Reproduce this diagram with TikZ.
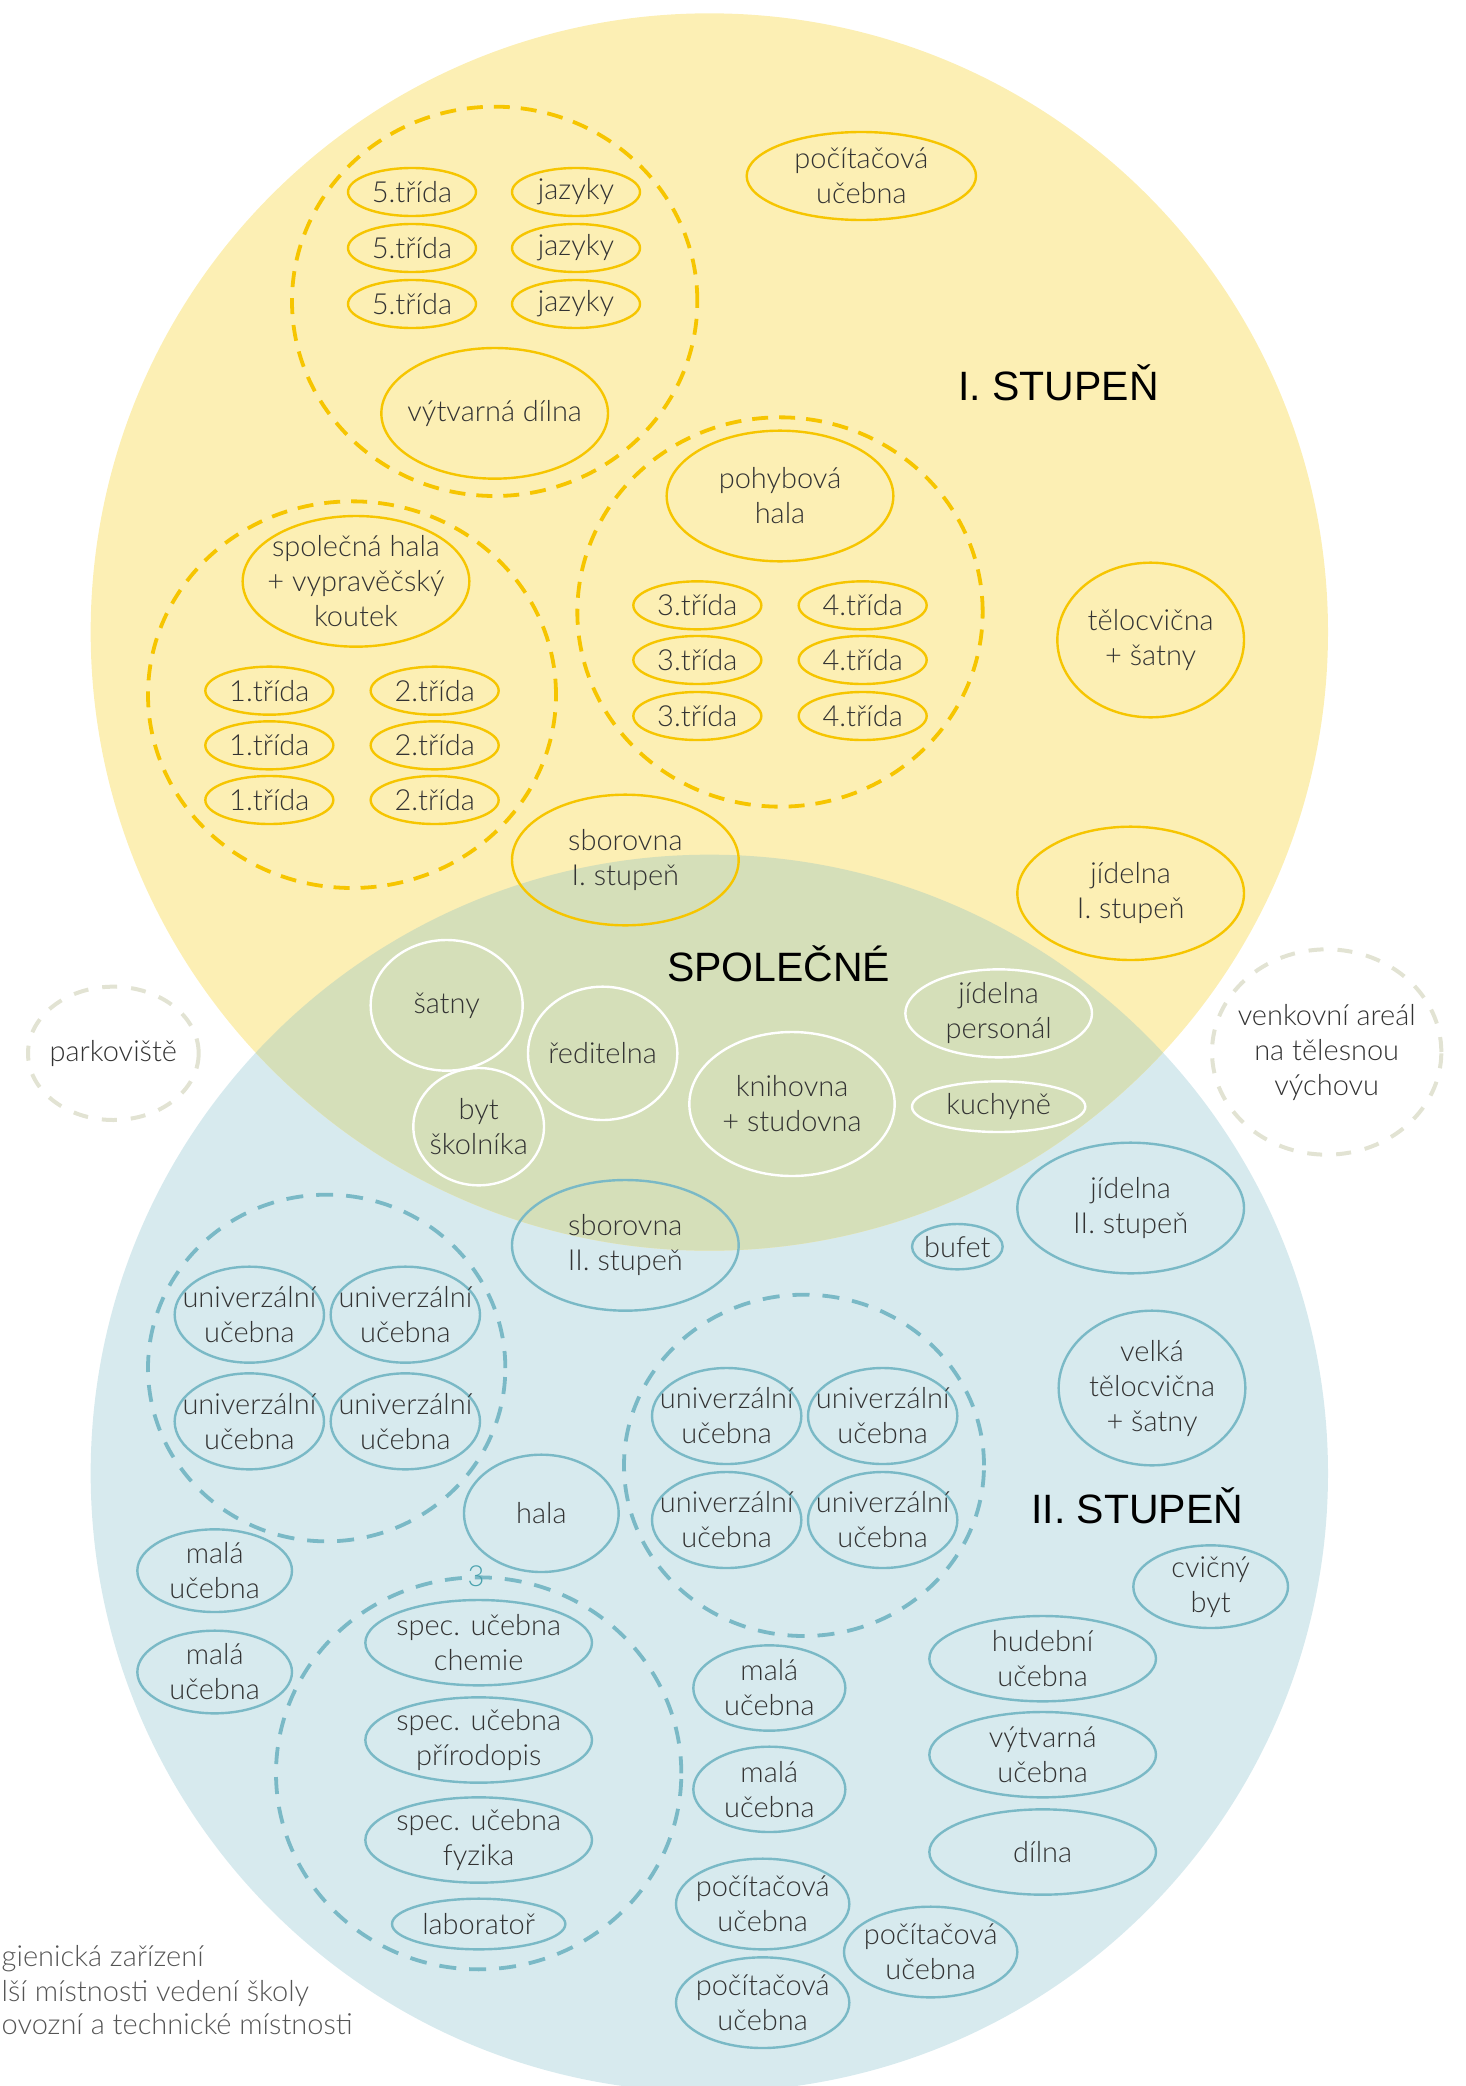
\documentclass[tikz,border=0pt]{standalone}
\usepackage{fontspec}
\IfFontExistsTF{Lato Light}{\setmainfont{Lato Light}}{%
 \IfFontExistsTF{Lato-Light.ttf}{\setmainfont{Lato-Light.ttf}}{%
  \IfFontExistsTF{Open Sans Light}{\setmainfont{Open Sans Light}}{%
   \IfFontExistsTF{Fira Sans Light}{\setmainfont{Fira Sans Light}}{%
    \IfFontExistsTF{Noto Sans Light}{\setmainfont{Noto Sans Light}}{\setmainfont{Lato}}}}}}
\newfontfamily\headfont{Liberation Sans}
\usetikzlibrary{shapes.geometric}
\definecolor{yfill}{HTML}{FCEFB4}
\definecolor{bfill}{HTML}{D7EAEE}
\definecolor{gfill}{HTML}{D5DFB9}
\definecolor{ystroke}{HTML}{F6C500}
\definecolor{bstroke}{HTML}{7AB9C6}
\definecolor{beige}{HTML}{E2E3D3}
\definecolor{labelgray}{HTML}{333333}
\definecolor{leggray}{HTML}{555555}
\definecolor{teal3}{HTML}{4AA2AE}
\tikzset{
  R/.style 2 args={ellipse, inner sep=0pt, minimum width=#1*1.33333pt, minimum height=#2*1.33333pt, line width=1.2pt},
  yel/.style={draw=ystroke},
  blu/.style={draw=bstroke},
  wht/.style={draw=white},
  T/.style={font=\fontsize{14.5}{17.5}\selectfont, text=labelgray, align=center, inner sep=0pt},
  H/.style={font=\headfont\fontsize{20.5}{24}\selectfont, text=black, inner sep=0pt},
  ydash/.style={draw=ystroke, line width=1.9pt, dash pattern=on 8pt off 5.5pt},
  bdash/.style={draw=bstroke, line width=1.9pt, dash pattern=on 8.5pt off 6.5pt},
  edash/.style={draw=beige, line width=2pt, dash pattern=on 7.5pt off 7pt},
}
\begin{document}
\begin{tikzpicture}[x=0.66667pt, y=-0.66667pt]
\useasboundingbox (0,0) rectangle (1098.75,1564.5);
% background circles
\fill[bfill] (532,1105) ellipse [x radius=464, y radius=464];
\fill[yfill] (532,474) ellipse [x radius=464, y radius=464];
\begin{scope}
  \clip (532,1105) ellipse [x radius=464, y radius=464];
  \fill[gfill] (532,474) ellipse [x radius=464, y radius=464];
\end{scope}

% group outlines
\node[R={152}{146}, ydash] (g1) at (371,226) {};
\node[R={152}{146}, ydash] (g2) at (585,459) {};
\node[R={153}{145}, ydash] (g3) at (264,521) {};
\node[R={134}{130}, bdash] (g4) at (245,1026) {};
\node[R={135}{128}, bdash] (g5) at (603,1099) {};
\node[R={152}{147}, bdash] (g6) at (359,1330) {};
\node[R={64}{50}, edash, label={[T]center:parkoviště}] (park) at (85,790) {};
\node[R={86}{77}, edash, label={[T]center:{venkovní areál\\na tělesnou\\výchovu}}] (venk) at (995,789) {};

% I. stupeň
\node[R={48}{18}, yel, label={[T]center:5.třída}] (t5a) at (309,144) {};
\node[R={48}{18}, yel, label={[T]center:5.třída}] (t5b) at (309,186) {};
\node[R={48}{18}, yel, label={[T]center:5.třída}] (t5c) at (309,228) {};
\node[R={48}{18}, yel, label={[T]center:jazyky}] (jza) at (432,144) {};
\node[R={48}{18}, yel, label={[T]center:jazyky}] (jzb) at (432,186) {};
\node[R={48}{18}, yel, label={[T]center:jazyky}] (jzc) at (432,228) {};
\node[R={85}{49}, yel, label={[T]center:výtvarná dílna}] (vd) at (371,310) {};
\node[R={86}{33}, yel, label={[T]center:{počítačová\\učebna}}] (pc1) at (646,132) {};
\node[R={85}{49}, yel, label={[T]center:{pohybová\\hala}}] (ph) at (585,372) {};
\node[R={48}{18}, yel, label={[T]center:3.třída}] (t3a) at (523,454) {};
\node[R={48}{18}, yel, label={[T]center:3.třída}] (t3b) at (523,495) {};
\node[R={48}{18}, yel, label={[T]center:3.třída}] (t3c) at (523,537) {};
\node[R={48}{18}, yel, label={[T]center:4.třída}] (t4a) at (647,454) {};
\node[R={48}{18}, yel, label={[T]center:4.třída}] (t4b) at (647,495) {};
\node[R={48}{18}, yel, label={[T]center:4.třída}] (t4c) at (647,537) {};
\node[R={85}{49}, yel, label={[T]center:{společná hala\\+ vypravěčský\\koutek}}] (sh) at (267,436) {};
\node[R={48}{18}, yel, label={[T]center:1.třída}] (t1a) at (202,518) {};
\node[R={48}{18}, yel, label={[T]center:1.třída}] (t1b) at (202,559) {};
\node[R={48}{18}, yel, label={[T]center:1.třída}] (t1c) at (202,600) {};
\node[R={48}{18}, yel, label={[T]center:2.třída}] (t2a) at (326,518) {};
\node[R={48}{18}, yel, label={[T]center:2.třída}] (t2b) at (326,559) {};
\node[R={48}{18}, yel, label={[T]center:2.třída}] (t2c) at (326,600) {};
\node[R={70}{58}, yel, label={[T]center:{tělocvična\\+ šatny}}] (tel1) at (863,480) {};
\node[R={85}{49}, yel, label={[T]center:{sborovna\\I. stupeň}}] (sb1) at (469,645) {};
\node[R={85}{50}, yel, label={[T]center:{jídelna\\I. stupeň}}] (jd1) at (848,670) {};
\node[H] (h1) at (794,287) {I. STUPEŇ};

% společné
\node[H] (h0) at (584,723) {SPOLEČNÉ};
\node[R={57}{49}, wht, label={[T]center:šatny}] (sat) at (335,754) {};
\node[R={56}{50}, wht, label={[T]center:ředitelna}] (red) at (452,790) {};
\node[R={49}{44}, wht, label={[T]center:{byt\\školníka}}] (byt) at (359,845) {};
\node[R={77}{54}, wht, label={[T]center:{knihovna\\+ studovna}}] (kn) at (594,828) {};
\node[R={70}{33}, wht, label={[T]center:{jídelna\\personál}}] (jp) at (749,760) {};
\node[R={65}{19}, wht, label={[T]center:kuchyně}] (ku) at (749,830) {};

% II. stupeň
\node[H] (h2) at (853,1129) {II. STUPEŇ};
\node[R={85}{49}, blu, label={[T]center:{sborovna\\II. stupeň}}] (sb2) at (469,934) {};
\node[R={34}{17}, blu, label={[T]center:bufet}] (buf) at (718,935) {};
\node[R={85}{49}, blu, label={[T]center:{jídelna\\II. stupeň}}] (jd2) at (848,906) {};
\node[R={70}{58}, blu, label={[T]center:{velká\\tělocvična\\+ šatny}}] (tel2) at (864,1041) {};
\node[R={56}{36}, blu, label={[T]center:{univerzální\\učebna}}] (ua1) at (187,986) {};
\node[R={56}{36}, blu, label={[T]center:{univerzální\\učebna}}] (ua2) at (304,986) {};
\node[R={56}{36}, blu, label={[T]center:{univerzální\\učebna}}] (ua3) at (187,1066) {};
\node[R={56}{36}, blu, label={[T]center:{univerzální\\učebna}}] (ua4) at (304,1066) {};
\node[R={58}{44}, blu, label={[T]center:hala}] (hala) at (406,1135) {};
\node[R={56}{36}, blu, label={[T]center:{univerzální\\učebna}}] (ub1) at (545,1062) {};
\node[R={56}{36}, blu, label={[T]center:{univerzální\\učebna}}] (ub2) at (662,1062) {};
\node[R={56}{36}, blu, label={[T]center:{univerzální\\učebna}}] (ub3) at (545,1140) {};
\node[R={56}{36}, blu, label={[T]center:{univerzální\\učebna}}] (ub4) at (662,1140) {};
\node[R={58}{31}, blu, label={[T]center:{malá\\učebna}}] (ma1) at (161,1178) {};
\node[R={58}{31}, blu, label={[T]center:{malá\\učebna}}] (ma2) at (161,1254) {};
\node[T, text=teal3] (n3) at (357,1182) {3};
\node[R={85}{32}, blu, label={[T]center:{spec. učebna\\chemie}}] (sc) at (359,1232) {};
\node[R={85}{32}, blu, label={[T]center:{spec. učebna\\přírodopis}}] (sp) at (359,1305) {};
\node[R={85}{32}, blu, label={[T]center:{spec. učebna\\fyzika}}] (sf) at (359,1380) {};
\node[R={65}{19}, blu, label={[T]center:laboratoř}] (lab) at (359,1443) {};
\node[R={57}{32}, blu, label={[T]center:{malá\\učebna}}] (mb1) at (577,1266) {};
\node[R={57}{32}, blu, label={[T]center:{malá\\učebna}}] (mb2) at (577,1342) {};
\node[R={65}{34}, blu, label={[T]center:{počítačová\\učebna}}] (pca) at (572,1428) {};
\node[R={65}{34}, blu, label={[T]center:{počítačová\\učebna}}] (pcb) at (572,1502) {};
\node[R={65}{34}, blu, label={[T]center:{počítačová\\učebna}}] (pcc) at (698,1464) {};
\node[R={58}{31}, blu, label={[T]center:{cvičný\\byt}}] (cb) at (908,1190) {};
\node[R={85}{32}, blu, label={[T]center:{hudební\\učebna}}] (hu) at (782,1244) {};
\node[R={85}{32}, blu, label={[T]center:{výtvarná\\učebna}}] (vu) at (782,1316) {};
\node[R={85}{32}, blu, label={[T]center:dílna}] (dil) at (782,1389) {};

% legend (cut at left edge in the reference)
\node[T, text=leggray, anchor=base west] (l1) at (1,1475) {gienická zařízení};
\node[T, text=leggray, anchor=base west] (l2) at (1,1501) {lší místnosti vedení školy};
\node[T, text=leggray, anchor=base west] (l3) at (1,1526) {ovozní a technické místnosti};
\end{tikzpicture}
\end{document}
